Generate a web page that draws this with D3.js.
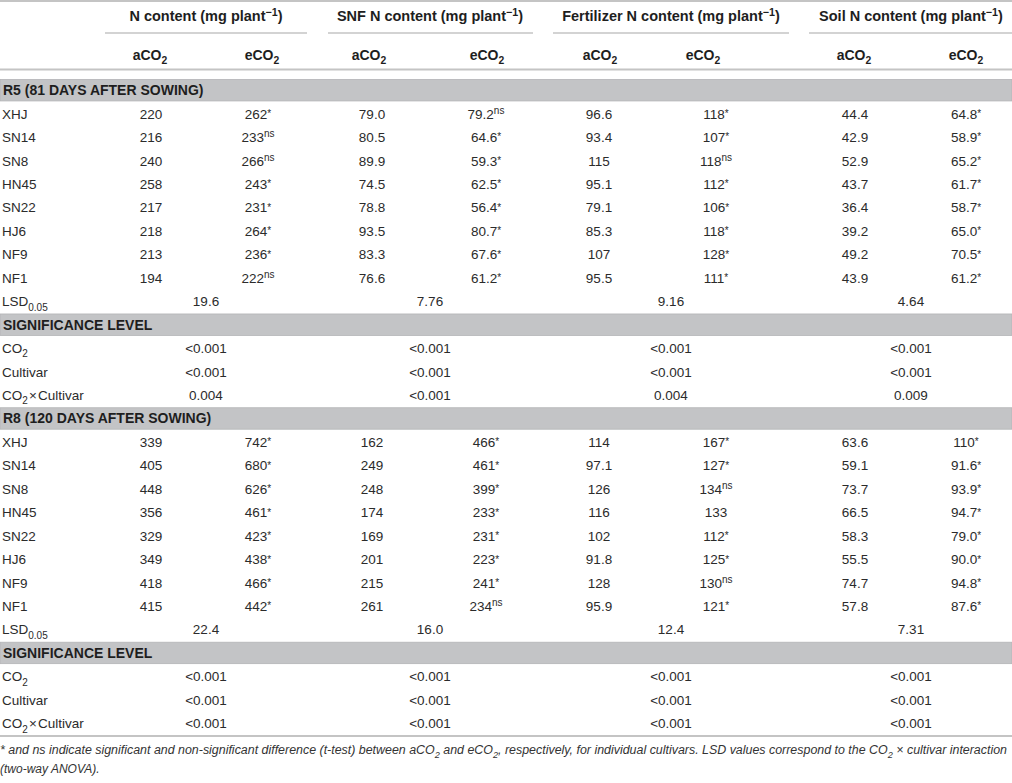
<!DOCTYPE html>
<html>
<head>
<meta charset="utf-8">
<script src="https://cdn.jsdelivr.net/npm/d3@7"></script>
<style>
  body { margin: 0; background: #fff; }
  svg { display: block; }
</style>
</head>
<body>
<script>
// table content
const groups = ["N content", "SNF N content", "Fertilizer N content", "Soil N content"];
const treatments = ["aCO2", "eCO2"];
const stages = ["R5 (81 DAYS AFTER SOWING)", "R8 (120 DAYS AFTER SOWING)"];
const cultivars = ["XHJ", "SN14", "SN8", "HN45", "SN22", "HJ6", "NF9", "NF1"];
const sigTerms = ["CO2", "Cultivar", "CO2xCultivar"];

// R5
const r5_N_a = [220, 216, 240, 258, 217, 218, 213, 194];
const r5_N_e = [262, 233, 266, 243, 231, 264, 236, 222];
const r5_N_sig = ["*", "ns", "ns", "*", "*", "*", "*", "ns"];
const r5_SNF_a = [79.0, 80.5, 89.9, 74.5, 78.8, 93.5, 83.3, 76.6];
const r5_SNF_e = [79.2, 64.6, 59.3, 62.5, 56.4, 80.7, 67.6, 61.2];
const r5_SNF_sig = ["ns", "*", "*", "*", "*", "*", "*", "*"];
const r5_Fert_a = [96.6, 93.4, 115, 95.1, 79.1, 85.3, 107, 95.5];
const r5_Fert_e = [118, 107, 118, 112, 106, 118, 128, 111];
const r5_Fert_sig = ["*", "*", "ns", "*", "*", "*", "*", "*"];
const r5_Soil_a = [44.4, 42.9, 52.9, 43.7, 36.4, 39.2, 49.2, 43.9];
const r5_Soil_e = [64.8, 58.9, 65.2, 61.7, 58.7, 65.0, 70.5, 61.2];
const r5_Soil_sig = ["*", "*", "*", "*", "*", "*", "*", "*"];
const r5_lsd = [19.6, 7.76, 9.16, 4.64];
const r5_p_co2 = ["<0.001", "<0.001", "<0.001", "<0.001"];
const r5_p_cult = ["<0.001", "<0.001", "<0.001", "<0.001"];
const r5_p_int = ["0.004", "<0.001", "0.004", "0.009"];

// R8
const r8_N_a = [339, 405, 448, 356, 329, 349, 418, 415];
const r8_N_e = [742, 680, 626, 461, 423, 438, 466, 442];
const r8_N_sig = ["*", "*", "*", "*", "*", "*", "*", "*"];
const r8_SNF_a = [162, 249, 248, 174, 169, 201, 215, 261];
const r8_SNF_e = [466, 461, 399, 233, 231, 223, 241, 234];
const r8_SNF_sig = ["*", "*", "*", "*", "*", "*", "*", "ns"];
const r8_Fert_a = [114, 97.1, 126, 116, 102, 91.8, 128, 95.9];
const r8_Fert_e = [167, 127, 134, 133, 112, 125, 130, 121];
const r8_Fert_sig = ["*", "*", "ns", "", "*", "*", "ns", "*"];
const r8_Soil_a = [63.6, 59.1, 73.7, 66.5, 58.3, 55.5, 74.7, 57.8];
const r8_Soil_e = [110, 91.6, 93.9, 94.7, 79.0, 90.0, 94.8, 87.6];
const r8_Soil_sig = ["*", "*", "*", "*", "*", "*", "*", "*"];
const r8_lsd = [22.4, 16.0, 12.4, 7.31];
const r8_p_co2 = ["<0.001", "<0.001", "<0.001", "<0.001"];
const r8_p_cult = ["<0.001", "<0.001", "<0.001", "<0.001"];
const r8_p_int = ["<0.001", "<0.001", "<0.001", "<0.001"];

const footnote = [
  [["* and ns indicate significant and non-significant difference (t-test) between aCO", ""], ["2", "sub"], [" and eCO", ""], ["2", "sub"],
   [", respectively, for individual cultivars. LSD values correspond to the CO", ""], ["2", "sub"], [" \u00d7 cultivar interaction", ""]],
  [["(two-way ANOVA).", ""]]
];

// layout
const W = 1012, H = 783;
const font = "'Liberation Sans', Arial, Helvetica, sans-serif";
const fs = 13.5;
const fmt = d3.format(".3r");
const lineColor = "#c4c4c4";
const textColor = "#2b2b2b";

const stageData = [
  { a: [r5_N_a, r5_SNF_a, r5_Fert_a, r5_Soil_a], e: [r5_N_e, r5_SNF_e, r5_Fert_e, r5_Soil_e],
    sig: [r5_N_sig, r5_SNF_sig, r5_Fert_sig, r5_Soil_sig], lsd: r5_lsd, p: [r5_p_co2, r5_p_cult, r5_p_int] },
  { a: [r8_N_a, r8_SNF_a, r8_Fert_a, r8_Soil_a], e: [r8_N_e, r8_SNF_e, r8_Fert_e, r8_Soil_e],
    sig: [r8_N_sig, r8_SNF_sig, r8_Fert_sig, r8_Soil_sig], lsd: r8_lsd, p: [r8_p_co2, r8_p_cult, r8_p_int] }
];

// build row list
const rows = [];
stages.forEach((stage, s) => {
  const d = stageData[s];
  rows.push({ kind: "band", label: stage });
  cultivars.forEach((c, i) => {
    const cells = [];
    groups.forEach((g, gi) => {
      const mark = d.sig[gi][i];
      cells.push({ col: gi + "a", parts: [[fmt(d.a[gi][i]), ""]] });
      cells.push({ col: gi + "e", parts: [[fmt(d.e[gi][i]), ""], [mark, mark === "*" ? "star" : "sup"]] });
    });
    rows.push({ kind: "data", label: [[c, ""]], cells: cells });
  });
  rows.push({ kind: "data", label: [["LSD", ""], ["0.05", "sub"]],
    cells: d.lsd.map((v, gi) => ({ grp: gi, parts: [[fmt(v), ""]] })) });
  rows.push({ kind: "band", label: "SIGNIFICANCE LEVEL" });
  sigTerms.forEach((t, ti) => {
    const label = t === "CO2" ? [["CO", ""], ["2", "sub"]]
      : t === "CO2xCultivar" ? [["CO", ""], ["2", "sub"], ["\u200a\u00d7\u200aCultivar", ""]]
      : [[t, ""]];
    rows.push({ kind: "data", label: label,
      cells: d.p[ti].map((v, gi) => ({ grp: gi, parts: [[v, ""]] })) });
  });
});

// scales
const y = d3.scaleBand().domain(d3.range(rows.length)).range([79, 735.5]);
const colKeys = [];
groups.forEach((g, gi) => treatments.forEach(t => colKeys.push(gi + t[0])));
const xCol = d3.scaleOrdinal().domain(colKeys).range([151, 258, 372, 486, 599, 716, 855, 966]);
const xHead = d3.scaleOrdinal().domain(colKeys).range([150, 262, 369, 487, 600, 703, 854, 966]);
const xGroup = d3.scaleOrdinal().domain(d3.range(4)).range([206, 430, 671, 911]);
const groupSpan = d3.scaleOrdinal().domain(d3.range(4)).range([[105, 307], [328, 533], [553, 789], [809, 1012]]);

const svg = d3.select("body").append("svg").attr("width", W).attr("height", H)
  .style("font-family", font).style("fill", textColor);

// text with sub/superscripts
function rich(sel, parts, size) {
  let shift = 0;
  parts.forEach(([t, mode]) => {
    if (!t) return;
    const target = mode === "sup" ? -size * 0.36 : mode === "star" ? -size * 0.12
      : mode === "sub" ? size * 0.32 : 0;
    sel.append("tspan")
      .attr("dy", target - shift)
      .attr("font-size", mode ? size * 0.74 : size)
      .text(t);
    shift = target;
  });
}

// header
svg.append("line").attr("x1", 0).attr("x2", W).attr("y1", 1).attr("y2", 1)
  .attr("stroke", lineColor).attr("stroke-width", 2);

groups.forEach((g, gi) => {
  const t = svg.append("text").attr("x", xGroup(gi)).attr("y", 21)
    .attr("text-anchor", "middle").attr("font-weight", "bold").attr("fill", "#1e1e1e");
  rich(t, [[g + " (mg plant", ""], ["\u22121", "sup"], [")", ""]], 14.5);
  const span = groupSpan(gi);
  svg.append("line").attr("x1", span[0]).attr("x2", span[1]).attr("y1", 33).attr("y2", 33)
    .attr("stroke", lineColor).attr("stroke-width", 1.5);
  treatments.forEach(tr => {
    const h = svg.append("text").attr("x", xHead(gi + tr[0])).attr("y", 60)
      .attr("text-anchor", "middle").attr("font-weight", "bold").attr("fill", "#1e1e1e");
    rich(h, [[tr.slice(0, 3), ""], ["2", "sub"]], 14);
  });
});

svg.append("line").attr("x1", 0).attr("x2", W).attr("y1", 69.5).attr("y2", 69.5)
  .attr("stroke", lineColor).attr("stroke-width", 2);

// rows
const rowG = svg.selectAll("g.row").data(rows).enter().append("g")
  .attr("class", "row")
  .attr("transform", (d, i) => "translate(0," + y(i) + ")");

const bw = y.bandwidth();

rowG.filter(d => d.kind === "band").each(function(d) {
  const g = d3.select(this);
  g.append("rect").attr("x", 0).attr("y", 0.5).attr("width", W).attr("height", bw - 2)
    .attr("fill", "#c3c4c6").attr("stroke", "#b3b4b6").attr("stroke-width", 0.8);
  g.append("text").attr("x", 3).attr("y", bw / 2 + 4.5)
    .attr("font-size", 14).attr("font-weight", "bold").attr("fill", "#1e1e1e").text(d.label);
});

rowG.filter(d => d.kind === "data").each(function(d) {
  const g = d3.select(this);
  const base = bw / 2 + 4.5;
  rich(g.append("text").attr("x", 2).attr("y", base), d.label, fs);
  d.cells.forEach(c => {
    const t = g.append("text")
      .attr("x", c.col !== undefined ? xCol(c.col) : xGroup(c.grp))
      .attr("y", base).attr("text-anchor", "middle");
    rich(t, c.parts, fs);
  });
});

svg.append("line").attr("x1", 0).attr("x2", W).attr("y1", 736).attr("y2", 736)
  .attr("stroke", lineColor).attr("stroke-width", 2);

// footnote
footnote.forEach((line, li) => {
  const t = svg.append("text").attr("x", 0).attr("y", 754 + li * 19)
    .attr("font-style", "italic").attr("fill", "#333");
  rich(t, line, 12);
  if (li === 0) t.attr("textLength", 1007).attr("lengthAdjust", "spacingAndGlyphs");
});
</script>
</body>
</html>
